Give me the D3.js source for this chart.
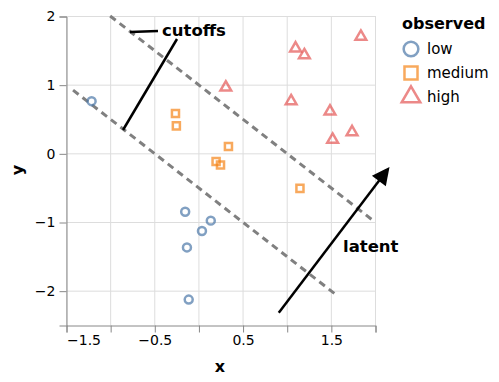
<!DOCTYPE html>
<html>
<head>
<meta charset="utf-8">
<style>
html, body {
    margin: 0;
    padding: 0;
    background: #fff;
    font-family: "DejaVu Sans", sans-serif;
}
</style>
</head>
<body>
<script src="https://d3js.org/d3.v7.min.js"></script>
<script>
// observed points
const low = [
    [-1.21, 0.76], [-0.15, -0.85], [0.14, -0.98], [0.04, -1.13],
    [-0.13, -1.37], [-0.11, -2.13]
];
const medium = [
    [-0.26, 0.58], [-0.25, 0.40], [0.34, 0.10], [0.20, -0.12],
    [0.25, -0.17], [1.15, -0.51]
];
const high = [
    [1.10, 1.53], [1.20, 1.43], [1.84, 1.70], [0.31, 0.96],
    [1.05, 0.76], [1.49, 0.61], [1.74, 0.31], [1.52, 0.20]
];
const categories = ["low", "medium", "high"];
const xTicks = [-1.5, -1, -0.5, 0, 0.5, 1, 1.5, 2];
const xLabels = [-1.5, -0.5, 0.5, 1.5];
const yTicks = [2, 1, 0, -1, -2];
// cutoff lines x + y = -0.5 and x + y = 1
const cutoffs = [
    [[-1.42, 0.92], [1.58, -2.08]],
    [[-1.0, 2.0], [2.0, -1.0]]
];
const latentArrow = [[0.91, -2.32], [2.14, -0.24]];

const width = 499, height = 382;
const colors = {low: "#4c78a8", medium: "#f58518", high: "#e45756"};
const shapes = {low: d3.symbolCircle, medium: d3.symbolSquare, high: d3.symbolTriangle};
const minus = s => s.replace("-", "\u2212");

const x = d3.scaleLinear().domain([-1.5, 2]).range([66, 375]);
const y = d3.scaleLinear().domain([-2.5, 2]).range([325, 16]);

const svg = d3.select("body").append("svg")
    .attr("width", width)
    .attr("height", height);

svg.append("defs").append("marker")
    .attr("id", "head")
    .attr("viewBox", "0 0 10 10")
    .attr("refX", 8).attr("refY", 5)
    .attr("markerWidth", 8).attr("markerHeight", 7)
    .attr("markerUnits", "strokeWidth")
    .attr("orient", "auto")
  .append("path")
    .attr("d", "M0,0L10,5L0,10Z")
    .attr("fill", "#000");

// grid
const grid = svg.append("g").attr("stroke", "#ddd").attr("stroke-width", 1);
grid.selectAll(".gx").data(xTicks).join("line")
    .attr("x1", d => x(d) + 0.5).attr("x2", d => x(d) + 0.5)
    .attr("y1", y(2)).attr("y2", y(-2.5));
grid.selectAll(".gy").data(yTicks).join("line")
    .attr("y1", d => y(d) + 0.5).attr("y2", d => y(d) + 0.5)
    .attr("x1", x(-1.5)).attr("x2", x(2));

// axes
const xAxis = svg.append("g")
    .attr("transform", `translate(0.5,${y(-2.5) + 0.5})`)
    .call(d3.axisBottom(x).tickValues(xTicks).tickSize(7).tickPadding(3)
        .tickFormat(d => xLabels.includes(d) ? minus(d.toFixed(1)) : ""));
const yAxis = svg.append("g")
    .attr("transform", `translate(${x(-1.5) + 0.5},0.5)`)
    .call(d3.axisLeft(y).tickValues(yTicks).tickSize(7).tickPadding(4)
        .tickFormat(d => minus(String(d))));
[xAxis, yAxis].forEach(a => {
    a.selectAll(".domain, .tick line").attr("stroke", "#888");
    a.selectAll("text").attr("fill", "#000")
        .style("font-family", "DejaVu Sans").style("font-size", "14px");
});
// first x label sits flush with the axis start
xAxis.selectAll(".tick text").filter(d => d === xTicks[0])
    .attr("text-anchor", "start");

svg.append("text")
    .attr("x", 220).attr("y", 372)
    .attr("text-anchor", "middle")
    .style("font-size", "16px").style("font-weight", "bold")
    .text("x");
svg.append("text")
    .attr("transform", "translate(23,170) rotate(-90)")
    .attr("text-anchor", "middle")
    .style("font-size", "16px").style("font-weight", "bold")
    .text("y");

// cutoff lines
svg.append("g").selectAll("line").data(cutoffs).join("line")
    .attr("x1", d => x(d[0][0])).attr("y1", d => y(d[0][1]))
    .attr("x2", d => x(d[1][0])).attr("y2", d => y(d[1][1]))
    .attr("stroke", "#808080")
    .attr("stroke-width", 3)
    .attr("stroke-dasharray", "7,5");

// points
const series = {low, medium, high};
const pts = svg.append("g");
categories.forEach(c => {
    pts.selectAll(".p-" + c).data(series[c]).join("path")
        .attr("transform", d => `translate(${x(d[0])},${y(d[1])})`)
        .attr("d", d3.symbol(shapes[c], 50))
        .attr("fill", "none")
        .attr("stroke", colors[c])
        .attr("stroke-width", 2.5)
        .attr("stroke-opacity", 0.7);
});

// annotations
const ann = svg.append("g").attr("stroke", "#000").attr("stroke-width", 2.5).attr("fill", "none");
ann.append("line").attr("x1", 130).attr("y1", 32).attr("x2", 158).attr("y2", 31);
ann.append("line").attr("x1", 177).attr("y1", 39).attr("x2", 123).attr("y2", 130);
ann.append("line")
    .attr("x1", x(latentArrow[0][0])).attr("y1", y(latentArrow[0][1]))
    .attr("x2", x(latentArrow[1][0])).attr("y2", y(latentArrow[1][1]))
    .attr("marker-end", "url(#head)");

svg.append("text")
    .attr("x", 162).attr("y", 36)
    .style("font-size", "16.5px").style("font-weight", "bold")
    .text("cutoffs");
svg.append("text")
    .attr("x", 343).attr("y", 252)
    .style("font-size", "16.5px").style("font-weight", "bold")
    .text("latent");

// legend
const legend = svg.append("g").attr("transform", "translate(402,0)");
legend.append("text")
    .attr("x", 0).attr("y", 29)
    .style("font-size", "16px").style("font-weight", "bold")
    .text("observed");
const item = legend.selectAll(".item").data(categories).join("g")
    .attr("transform", (d, i) => `translate(0,${49 + i * 24})`);
item.append("path")
    .attr("transform", "translate(9,0)")
    .attr("d", d => d3.symbol(shapes[d], d === "high" ? 150 : 170)())
    .attr("fill", "none")
    .attr("stroke", d => colors[d])
    .attr("stroke-width", 2.5)
    .attr("stroke-opacity", 0.7);
item.append("text")
    .attr("x", 25).attr("y", 5)
    .style("font-size", "15px")
    .text(d => d);
</script>
</body>
</html>
